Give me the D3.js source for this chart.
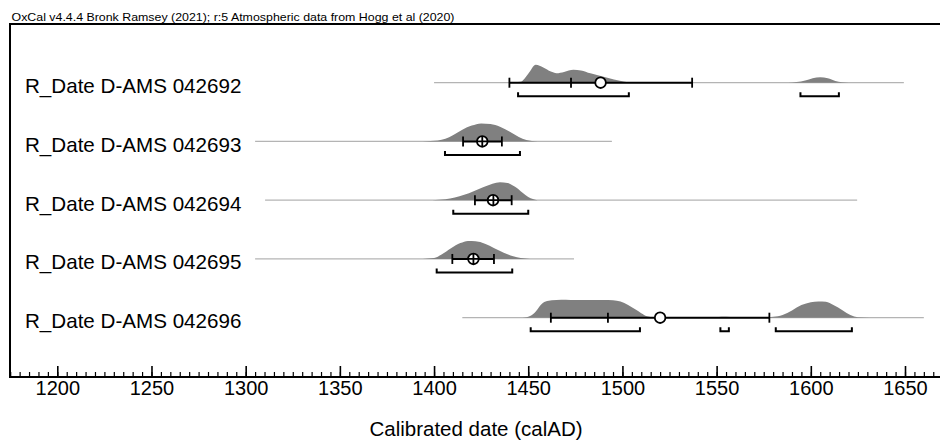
<!DOCTYPE html>
<html>
<head>
<meta charset="utf-8">
<script src="https://cdn.jsdelivr.net/npm/d3@7"></script>
<style>
  body { margin: 0; background: #fff; }
  text { font-family: "Liberation Sans", Arial, Helvetica, sans-serif; }
</style>
</head>
<body>
<div id="chart"></div>
<script>
/* OxCal multi-plot of five R_Dates */
const header = "OxCal v4.4.4 Bronk Ramsey (2021); r:5 Atmospheric data from Hogg et al (2020)"
const axisTitle = "Calibrated date (calAD)"
const labels = ["R_Date D-AMS 042692", "R_Date D-AMS 042693", "R_Date D-AMS 042694", "R_Date D-AMS 042695", "R_Date D-AMS 042696"]

// grey line = range plotted for each date
const spans = [[1400, 1649.4], [1305, 1494.4], [1310.3, 1624.6], [1305, 1474.3], [1415, 1660]]
// mean (circle), mean +- sigma (black line), median (tick)
const means = [1488.4, 1425.6, 1431.3, 1420.9, 1520]
const sigmaLo = [1440, 1415.4, 1421.7, 1409.7, 1462]
const sigmaHi = [1537, 1436, 1441.2, 1431.8, 1578]
const medians = [1472.7, 1425.6, 1431.5, 1420.9, 1492.3]
// 95.4% ranges (brackets underneath)
const ranges95 = [
    [[1444.6, 1503.4], [1594.5, 1614.9]],
    [[1405.8, 1445.6]],
    [[1410.2, 1450]],
    [[1401.4, 1441.5]],
    [[1451.3, 1509.3], [1552, 1556.5], [1581.4, 1621.8]]
]
// relative probability: [year, p]
const dens042692 = [[1440,0],[1446,0.05],[1450,0.5],[1454,1],[1458,0.85],[1462,0.62],[1465,0.53],[1469,0.6],[1474,0.72],[1478,0.68],[1483,0.52],[1488,0.38],[1493,0.25],[1498,0.12],[1503,0.02],[1506,0],
    [1588,0],[1597,0.12],[1601,0.25],[1605,0.3],[1609,0.25],[1613,0.1],[1620,0]]
const dens042693 = [[1394,0],[1402,0.05],[1406,0.15],[1410,0.35],[1415,0.65],[1420,0.88],[1425,1],[1430,0.97],[1435,0.82],[1440,0.55],[1445,0.25],[1449,0.08],[1455,0]]
const dens042694 = [[1399,0],[1406,0.05],[1411,0.15],[1416,0.3],[1421,0.5],[1426,0.72],[1431,0.92],[1435,1],[1439,0.95],[1443,0.75],[1447,0.42],[1450,0.18],[1455,0]]
const dens042695 = [[1394,0],[1400,0.05],[1404,0.25],[1409,0.6],[1414,0.88],[1418,1],[1422,0.98],[1427,0.85],[1432,0.6],[1437,0.35],[1442,0.15],[1446,0.05],[1451,0]]
const dens042696 = [[1447,0],[1451,0.1],[1454,0.35],[1457,0.75],[1460,0.93],[1465,0.98],[1470,1],[1475,0.98],[1480,0.99],[1485,0.98],[1490,0.99],[1495,0.97],[1499,0.9],[1503,0.7],[1507,0.45],[1510,0.25],[1513,0.08],[1518,0],
    [1545,0],[1550,0.03],[1555,0.05],[1560,0.03],[1566,0.01],[1575,0.02],[1580,0.05],[1585,0.15],[1590,0.4],[1595,0.7],[1600,0.86],[1604,0.9],[1608,0.88],[1612,0.7],[1617,0.4],[1621,0.15],[1625,0.03],[1631,0]]
const densities = [dens042692, dens042693, dens042694, dens042695, dens042696]

const majorTicks = d3.range(1200, 1651, 50)
const minorTicks = d3.range(1175, 1670, 5)

const width = 940, height = 441
const frame = {left: 10, top: 24, bottom: 377, right: 940}

const svg = d3.select("#chart").append("svg")
    .attr("width", width).attr("height", height)
    .attr("viewBox", [0, 0, width, height])

const x = d3.scaleLinear().domain([1200, 1650]).range([57.3, 905])
const row = d3.scalePoint().domain(labels).range([82.7, 317.7])
const p = d3.scaleLinear().domain([0, 1]).range([0, 18])

// header (stretched to the same width as the original)
svg.append("text").attr("x", 11.5).attr("y", 20.5)
    .attr("font-size", 11.5).attr("fill", "#000")
    .attr("textLength", 443).attr("lengthAdjust", "spacingAndGlyphs")
    .text(header)

// frame: top and left lines, bottom = axis line
svg.append("path")
    .attr("d", `M${frame.right},${frame.top}H${frame.left}V${frame.bottom}H${frame.right}`)
    .attr("fill", "none").attr("stroke", "#000").attr("stroke-width", 2)

// axis
const minorAxis = g => g
    .attr("transform", `translate(0,${frame.bottom})`)
    .call(d3.axisBottom(x).tickValues(minorTicks).tickSizeInner(-5).tickSizeOuter(0).tickFormat(""))
    .call(g => g.select(".domain").remove())
const majorAxis = g => g
    .attr("transform", `translate(0,${frame.bottom})`)
    .call(d3.axisBottom(x).tickValues(majorTicks).tickSizeInner(-11).tickSizeOuter(0).tickPadding(4).tickFormat(d3.format("d")))
    .call(g => g.select(".domain").remove())
    .call(g => g.selectAll("text").attr("font-size", 20).attr("fill", "#000")
        .style("font-family", '"Liberation Sans", Arial, sans-serif'))

svg.append("g").call(minorAxis).selectAll("line").attr("stroke", "#000").attr("stroke-width", 1.2)
svg.append("g").call(majorAxis).selectAll("line").attr("stroke", "#000").attr("stroke-width", 1.6)

svg.append("text").attr("x", 476).attr("y", 436).attr("text-anchor", "middle")
    .attr("font-size", 20.5).attr("fill", "#000").text(axisTitle)

// rows
const area = d3.area().curve(d3.curveMonotoneX).x(d => x(d[0]))

labels.forEach((name, i) => {
    const y0 = row(name)
    const g = svg.append("g")

    g.append("text").attr("x", 25).attr("y", y0 + 10.5)
        .attr("font-size", 20.6).attr("fill", "#000").text(name)

    g.append("line")
        .attr("x1", x(spans[i][0])).attr("x2", x(spans[i][1]))
        .attr("y1", y0).attr("y2", y0)
        .attr("stroke", "#b4b4b4").attr("stroke-width", 1.3)

    area.y0(y0).y1(d => y0 - p(d[1]))
    g.append("path").datum(densities[i])
        .attr("d", area).attr("fill", "#808080")

    // 95.4% brackets
    const by = y0 + 13.5
    g.selectAll(".br").data(ranges95[i]).join("path")
        .attr("d", r => `M${x(r[0])},${by - 4}V${by}H${x(r[1])}V${by - 4}`)
        .attr("fill", "none").attr("stroke", "#000").attr("stroke-width", 2)

    // mean +- sigma
    g.append("line")
        .attr("x1", x(sigmaLo[i])).attr("x2", x(sigmaHi[i]))
        .attr("y1", y0).attr("y2", y0)
        .attr("stroke", "#000").attr("stroke-width", 2)
    g.selectAll(".tk").data([sigmaLo[i], sigmaHi[i], medians[i]]).join("line")
        .attr("x1", d => x(d)).attr("x2", d => x(d))
        .attr("y1", y0 - 5).attr("y2", y0 + 5)
        .attr("stroke", "#000").attr("stroke-width", 1.8)

    const r = 5.3
    g.append("circle").attr("cx", x(means[i])).attr("cy", y0).attr("r", r)
        .attr("fill", "#fff").attr("stroke", "#000").attr("stroke-width", 1.8)

    // median inside the circle shows as a cross
    if (Math.abs(x(medians[i]) - x(means[i])) < r) {
        const cx = x(means[i])
        g.append("path")
            .attr("d", `M${cx - r},${y0}H${cx + r}M${x(medians[i])},${y0 - r}V${y0 + r}`)
            .attr("stroke", "#000").attr("stroke-width", 1.8)
    }
})
</script>
</body>
</html>
